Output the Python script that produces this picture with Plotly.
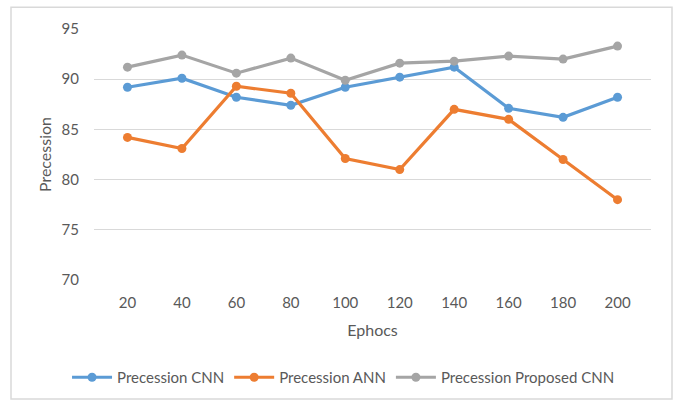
import plotly.graph_objects as go

epochs = ["20", "40", "60", "80", "100", "120", "140", "160", "180", "200"]
cnn = [89.2, 90.1, 88.2, 87.4, 89.2, 90.2, 91.2, 87.1, 86.2, 88.2]
ann = [84.2, 83.1, 89.3, 88.6, 82.1, 81.0, 87.0, 86.0, 82.0, 78.0]
proposed = [91.2, 92.4, 90.6, 92.1, 89.9, 91.6, 91.8, 92.3, 92.0, 93.3]

series = [
    ("Precession CNN", cnn, "#5B9BD5"),
    ("Precession ANN", ann, "#ED7D31"),
    ("Precession Proposed CNN", proposed, "#A5A5A5"),
]

fig = go.Figure()
for name, vals, color in series:
    fig.add_trace(go.Scatter(
        x=epochs, y=vals, name=name, mode="lines+markers",
        line=dict(color=color, width=3.2),
        marker=dict(color=color, size=9),
    ))

text_color = "#595959"
fig.update_layout(
    width=675, height=404,
    margin=dict(l=94, r=24, t=29, b=123),
    paper_bgcolor="white", plot_bgcolor="white",
    font=dict(family="Lato, Open Sans, sans-serif", size=15, color=text_color),
    showlegend=True,
    legend=dict(orientation="h", x=0.448, xanchor="center", y=-0.383, yanchor="middle",
                font=dict(size=15, color=text_color), itemwidth=40),
    xaxis=dict(type="category", showgrid=False, zeroline=False, showline=False,
               ticks="", ticklabelstandoff=12,
               title=dict(text="Ephocs", standoff=14, font=dict(size=16))),
    yaxis=dict(range=[70, 95], dtick=5, showgrid=True, gridcolor="#D9D9D9", gridwidth=1,
               zeroline=False, showline=False, ticks="", ticklabelstandoff=14,
               title=dict(text="Precession", standoff=5, font=dict(size=16))),
    shapes=[dict(type="rect", xref="paper", yref="paper",
                 x0=-0.1490, x1=1.0377, y0=-0.474, y1=1.087,
                 line=dict(color="#D9D9D9", width=1.5), fillcolor="rgba(0,0,0,0)",
                 layer="below")],
)

fig.write_html("out.html")
